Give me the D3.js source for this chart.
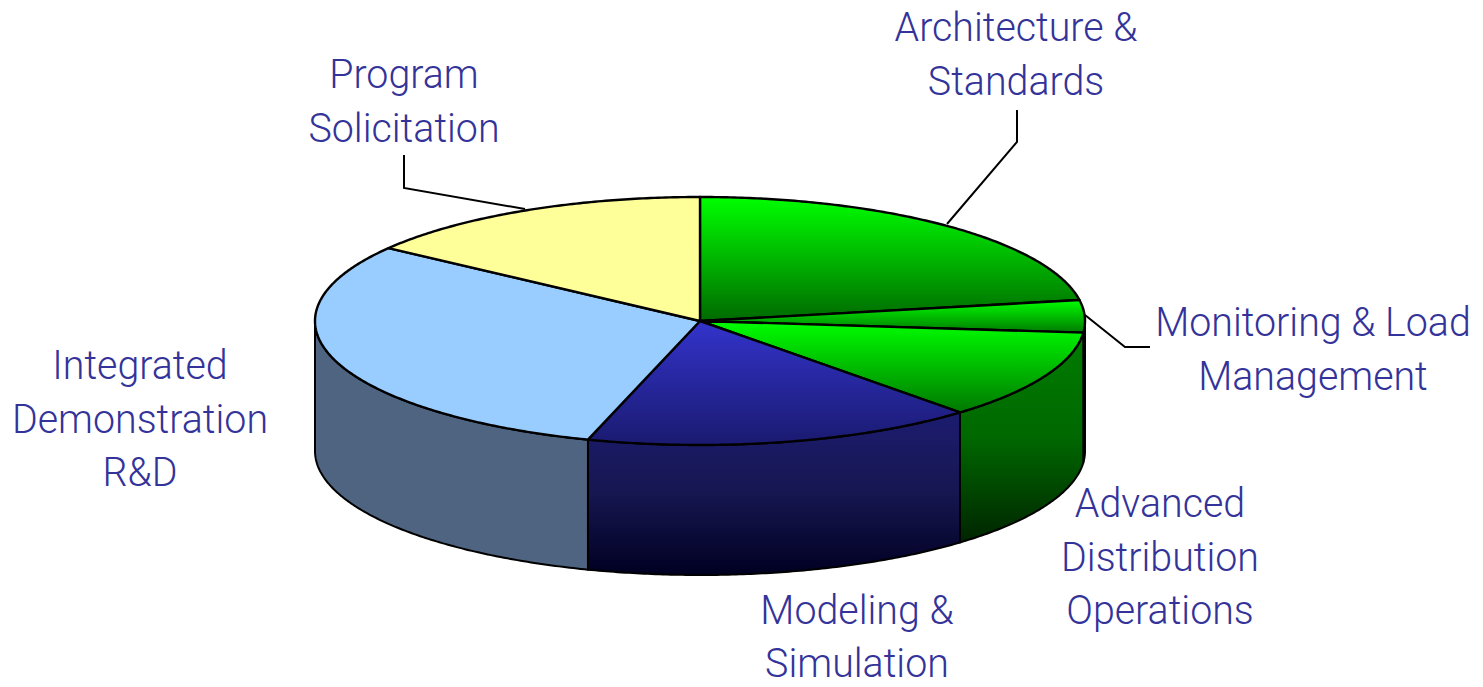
<!DOCTYPE html>
<html><head><meta charset="utf-8">
<style>html,body{margin:0;padding:0;background:#fff;overflow:hidden}svg{display:block}</style>
<script src="https://cdn.jsdelivr.net/npm/d3@7/dist/d3.min.js"></script>
</head><body>
<script>
// Data (clockwise from 12 o'clock)
const categories = ["Architecture & Standards","Monitoring & Load Management","Advanced Distribution Operations","Modeling & Simulation","Integrated Demonstration R&D","Program Solicitation"];
const shares = [22.3, 4.2, 11.7, 16.5, 30.3, 15.0];

// Style: gradient stops evenly spaced over each face's vertical extent
const topFills = [["#00ff00","#006a00"],["#00ff00","#007a00"],["#00ff00","#007800"],["#3333cc","#1a1a70"],["#99ccff","#99ccff"],["#ffff99","#ffff99"]];
const wallFills = [["#006c00","#006c00"],["#006c00","#006c00"],["#007c00","#006800","#002400"],["#1c1c70","#161650","#000022"],["#4f6480","#4f6480"],["#4f6480","#4f6480"]];

const W = 1483, H = 687;
const cx = 700, cy = 321, rx = 385, ry = 124, depth = 130;
const FONT = "Roboto, sans-serif";

const svg = d3.select("body").append("svg").attr("width", W).attr("height", H);
const defs = svg.append("defs");
const arcs = d3.pie().sort(null).value(d => d)(shares);

const px = a => cx + rx * Math.sin(a);
const py = a => cy - ry * Math.cos(a);
const line = d3.line().x(d => d[0]).y(d => d[1]);
const samples = (a0, a1, dz) => {
  const n = Math.max(2, Math.ceil(Math.abs(a1 - a0) / 0.01));
  return d3.range(n + 1).map(i => { const a = a0 + (a1 - a0) * i / n; return [px(a), py(a) + dz]; });
};
function gradient(id, c, y1, y2) {
  const g = defs.append("linearGradient").attr("id", id).attr("gradientUnits", "userSpaceOnUse")
    .attr("x1", 0).attr("x2", 0).attr("y1", y1).attr("y2", y2);
  c.forEach((col, k) => g.append("stop").attr("offset", k / (c.length - 1)).attr("stop-color", col));
}

// Walls: only the part of each slice facing the viewer
const wallGroup = svg.append("g");
arcs.forEach((d, i) => {
  const a0 = Math.max(d.startAngle, Math.PI / 2), a1 = Math.min(d.endAngle, Math.PI * 1.5);
  if (a1 <= a0) return;
  const front = samples(a0, a1, 0), back = samples(a1, a0, depth);
  const ys = front.concat(back).map(p => p[1]);
  gradient("w" + i, wallFills[i], d3.min(ys), d3.max(ys));
  wallGroup.append("path").attr("d", line(front.concat(back)) + "Z")
    .attr("fill", `url(#w${i})`).attr("stroke", "#000").attr("stroke-width", 2).attr("stroke-linejoin", "round");
});

// Top faces
const topGroup = svg.append("g");
arcs.forEach((d, i) => {
  const rim = samples(d.startAngle, d.endAngle, 0);
  const pts = [[cx, cy]].concat(rim);
  const ys = pts.map(p => p[1]);
  gradient("t" + i, topFills[i], d3.min(ys), d3.max(ys));
  topGroup.append("path").attr("d", line(pts) + "Z")
    .attr("fill", `url(#t${i})`).attr("stroke", "#000").attr("stroke-width", 2.4).attr("stroke-linejoin", "round");
});

// Leader lines
const leaders = [
  [[1017,110],[1017,142],[947,224]],
  [[1085,315],[1125,347],[1150,347]],
  [[404,155],[404,188],[525,209]]
];
svg.append("g").selectAll("path").data(leaders).join("path")
  .attr("d", d => line(d)).attr("fill", "none").attr("stroke", "#000").attr("stroke-width", 2);

// Labels
const labels = [
  {lines:["Architecture &","Standards"], x:1016, y:41},
  {lines:["Monitoring & Load","Management"], x:1313, y:336},
  {lines:["Advanced","Distribution","Operations"], x:1160, y:517},
  {lines:["Modeling &","Simulation"], x:857, y:623.5},
  {lines:["Integrated","Demonstration","R&D"], x:140, y:379},
  {lines:["Program","Solicitation"], x:404, y:88}
];
const t = svg.append("g").attr("font-family", FONT).attr("font-size", 41).attr("font-weight", 300).attr("fill", "#333399")
  .attr("text-anchor", "middle");
labels.forEach(l => {
  l.lines.forEach((s, i) => t.append("text")
    .attr("transform", `translate(${l.x},${l.y + i * 53.5}) scale(0.96,1)`).text(s));
});
</script>
</body></html>
